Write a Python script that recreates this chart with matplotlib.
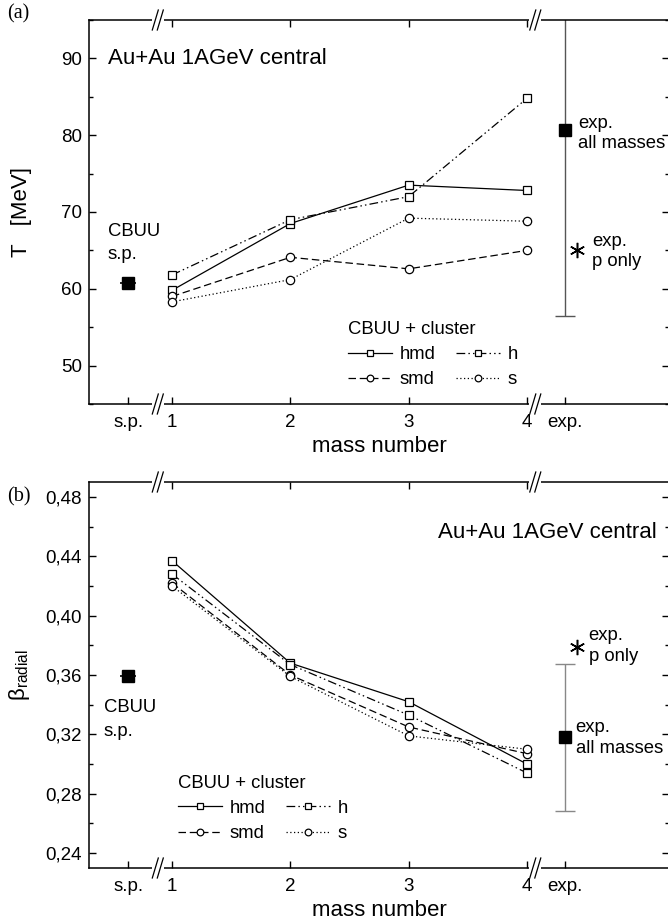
import matplotlib
matplotlib.use("Agg")
import matplotlib.pyplot as plt
from matplotlib.ticker import MultipleLocator, FuncFormatter

plt.rcParams['font.family'] = ['Liberation Sans', 'DejaVu Sans']
plt.rcParams['mathtext.fontset'] = 'custom'
plt.rcParams['mathtext.rm'] = 'Liberation Sans'
plt.rcParams['mathtext.it'] = 'Liberation Sans:italic'
plt.rcParams['axes.linewidth'] = 1.1

# positions on the broken mass axis
x_sp = 0.63
x_exp = 4.32
x_exp_p = 4.42
x_breaks = [0.88, 4.07]
mass = [1, 2, 3, 4]
x_ticks = [x_sp, 1, 2, 3, 4, x_exp]
x_ticklabels = ['s.p.', '1', '2', '3', '4', 'exp.']

# panel (a): temperature T [MeV]
T_hmd = [59.8, 68.5, 73.5, 72.8]
T_h = [61.8, 69.0, 72.0, 84.8]
T_smd = [59.0, 64.1, 62.6, 65.0]
T_s = [58.3, 61.2, 69.2, 68.8]
T_sp = 60.8
T_exp = 80.7
T_exp_err = 24.2
T_exp_p = 65.0

# panel (b): radial flow velocity
b_hmd = [0.437, 0.368, 0.342, 0.300]
b_h = [0.428, 0.367, 0.333, 0.294]
b_smd = [0.422, 0.360, 0.325, 0.307]
b_s = [0.420, 0.359, 0.319, 0.310]
b_sp = 0.359
b_exp = 0.318
b_exp_err = 0.0495
b_exp_p = 0.379

series_names = ['hmd', 'h', 'smd', 's']
styles = {
    'hmd': dict(ls='-', marker='s'),
    'h': dict(ls=(0, (7, 2.5, 1.2, 2.5, 1.2, 2.5)), marker='s'),
    'smd': dict(ls=(0, (6, 3)), marker='o'),
    's': dict(ls=(0, (1, 2)), marker='o'),
}

W, H = 668, 924
fig = plt.figure(figsize=(W / 100, H / 100), dpi=100)

# axes boxes in pixels: left, right, top, bottom
boxes = [(89, 669, 20, 404), (89, 669, 482, 868)]
axes = []
for l, r, t, b in boxes:
    axes.append(fig.add_axes([l / W, 1 - b / H, (r - l) / W, (b - t) / H]))
ax1, ax2 = axes

XLIM = (0.2986, 5.2)


def add_breaks(ax):
    w, h = ax.bbox.width, ax.bbox.height
    x0, x1 = ax.get_xlim()
    for xb in x_breaks:
        xf = (xb - x0) / (x1 - x0)
        for yf in (0, 1):
            ax.plot([xf - 6 / w, xf + 6 / w], [yf, yf], color='white', lw=3,
                    transform=ax.transAxes, clip_on=False, zorder=6,
                    solid_capstyle='butt')
            for dx in (-2.5, 2.5):
                ax.plot([xf + (dx - 3) / w, xf + (dx + 3) / w],
                        [yf - 10 / h, yf + 10 / h], color='k', lw=0.9,
                        transform=ax.transAxes, clip_on=False, zorder=7)


def style_axis(ax):
    ax.set_xlim(*XLIM)
    ax.set_xticks(x_ticks)
    ax.set_xticklabels(x_ticklabels)
    ax.tick_params(axis='both', which='both', direction='in', right=True,
                   top=False, labelsize=13.5, width=1)
    ax.tick_params(axis='both', which='major', length=5)
    ax.tick_params(axis='both', which='minor', length=3)
    ax.tick_params(axis='x', pad=7)
    ax.tick_params(axis='y', pad=5)
    sec = ax.secondary_xaxis('top')
    sec.set_xticks(mass)
    sec.set_xticklabels([])
    sec.tick_params(direction='in', length=5, width=1)
    sec.spines['top'].set_visible(False)
    ax.set_xlabel('mass number', fontsize=16, labelpad=4)
    ax.yaxis.set_label_coords(-0.098, 0.5)


def draw_panel(ax, data, sp, exp, exp_err, exp_p, err_color):
    lines = {}
    for name in series_names:
        lines[name], = ax.plot(mass, data[name], color='k', lw=0.9, ms=6,
                               mfc='white', mec='k', mew=0.9,
                               label=name, **styles[name])
    ax.errorbar(x_sp, sp, xerr=0.07, fmt='s', color='k', ms=8.5,
                elinewidth=1.2, capsize=0)
    ax.errorbar(x_exp, exp, yerr=exp_err, fmt='s', color='k', ms=8.5,
                ecolor=err_color, elinewidth=1, capsize=7, capthick=1)
    ax.plot(x_exp_p, exp_p, ls='none', marker=(6, 2, 0), ms=11, mew=1.1,
            color='k')
    return lines


def add_legend(ax, lines, anchor):
    order = ['hmd', 'smd', 'h', 's']
    ax.legend([lines[n] for n in order], order, ncol=2, frameon=False,
              title='CBUU + cluster', alignment='left', fontsize=13.3,
              title_fontsize=13.3, loc='upper left', bbox_to_anchor=anchor,
              borderpad=0, borderaxespad=0, handlelength=2.4,
              handletextpad=0.4, columnspacing=1.1, labelspacing=0.45,
              markerscale=0.8)


# ---- panel (a)
lines1 = draw_panel(ax1, {'hmd': T_hmd, 'h': T_h, 'smd': T_smd, 's': T_s},
                    T_sp, T_exp, T_exp_err, T_exp_p, '#555555')
ax1.set_ylim(45, 95)
ax1.yaxis.set_major_locator(MultipleLocator(10))
ax1.yaxis.set_minor_locator(MultipleLocator(5))
style_axis(ax1)
ax1.set_ylabel('T   [MeV]', fontsize=16)
ax1.text(0.0328, 0.901, 'Au+Au 1AGeV central', transform=ax1.transAxes,
         fontsize=16, va='center', ha='left')
ax1.text(0.459, 65.95, 'CBUU\ns.p.', fontsize=13.3, va='center', ha='left',
         linespacing=1.5)
ax1.text(4.43, 80.2, 'exp.\nall masses', fontsize=13.3, va='center',
         ha='left', linespacing=1.25)
ax1.text(4.55, 64.86, 'exp.\np only', fontsize=13.3, va='center',
         ha='left', linespacing=1.25)
add_legend(ax1, lines1, (0.4466, 0.217))
add_breaks(ax1)

# ---- panel (b)
lines2 = draw_panel(ax2, {'hmd': b_hmd, 'h': b_h, 'smd': b_smd, 's': b_s},
                    b_sp, b_exp, b_exp_err, b_exp_p, '#888888')
ax2.set_ylim(0.23, 0.49)
ax2.yaxis.set_major_locator(MultipleLocator(0.04))
ax2.yaxis.set_minor_locator(MultipleLocator(0.02))
ax2.yaxis.set_major_formatter(FuncFormatter(lambda v, p: f'{v:.2f}'.replace('.', ',')))
style_axis(ax2)
ax2.set_ylabel(r'$\mathrm{\beta}_{\mathrm{radial}}$', fontsize=16)
ax2.text(0.979, 0.870, 'Au+Au 1AGeV central', transform=ax2.transAxes,
         fontsize=16, va='center', ha='right')
ax2.text(0.425, 0.330, 'CBUU\ns.p.', fontsize=13.3, va='center', ha='left',
         linespacing=1.5)
ax2.text(4.41, 0.3174, 'exp.\nall masses', fontsize=13.3, va='center',
         ha='left', linespacing=1.3)
ax2.text(4.52, 0.3798, 'exp.\np only', fontsize=13.3, va='center',
         ha='left', linespacing=1.3)
add_legend(ax2, lines2, (0.1534, 0.242))
add_breaks(ax2)

fig.text(7 / W, 1 - 14 / H, '(a)', family='Liberation Serif', fontsize=14.5,
         va='center', ha='left')
fig.text(7 / W, 1 - 497 / H, '(b)', family='Liberation Serif', fontsize=14.5,
         va='center', ha='left')

fig.savefig('out.png', dpi=100)
